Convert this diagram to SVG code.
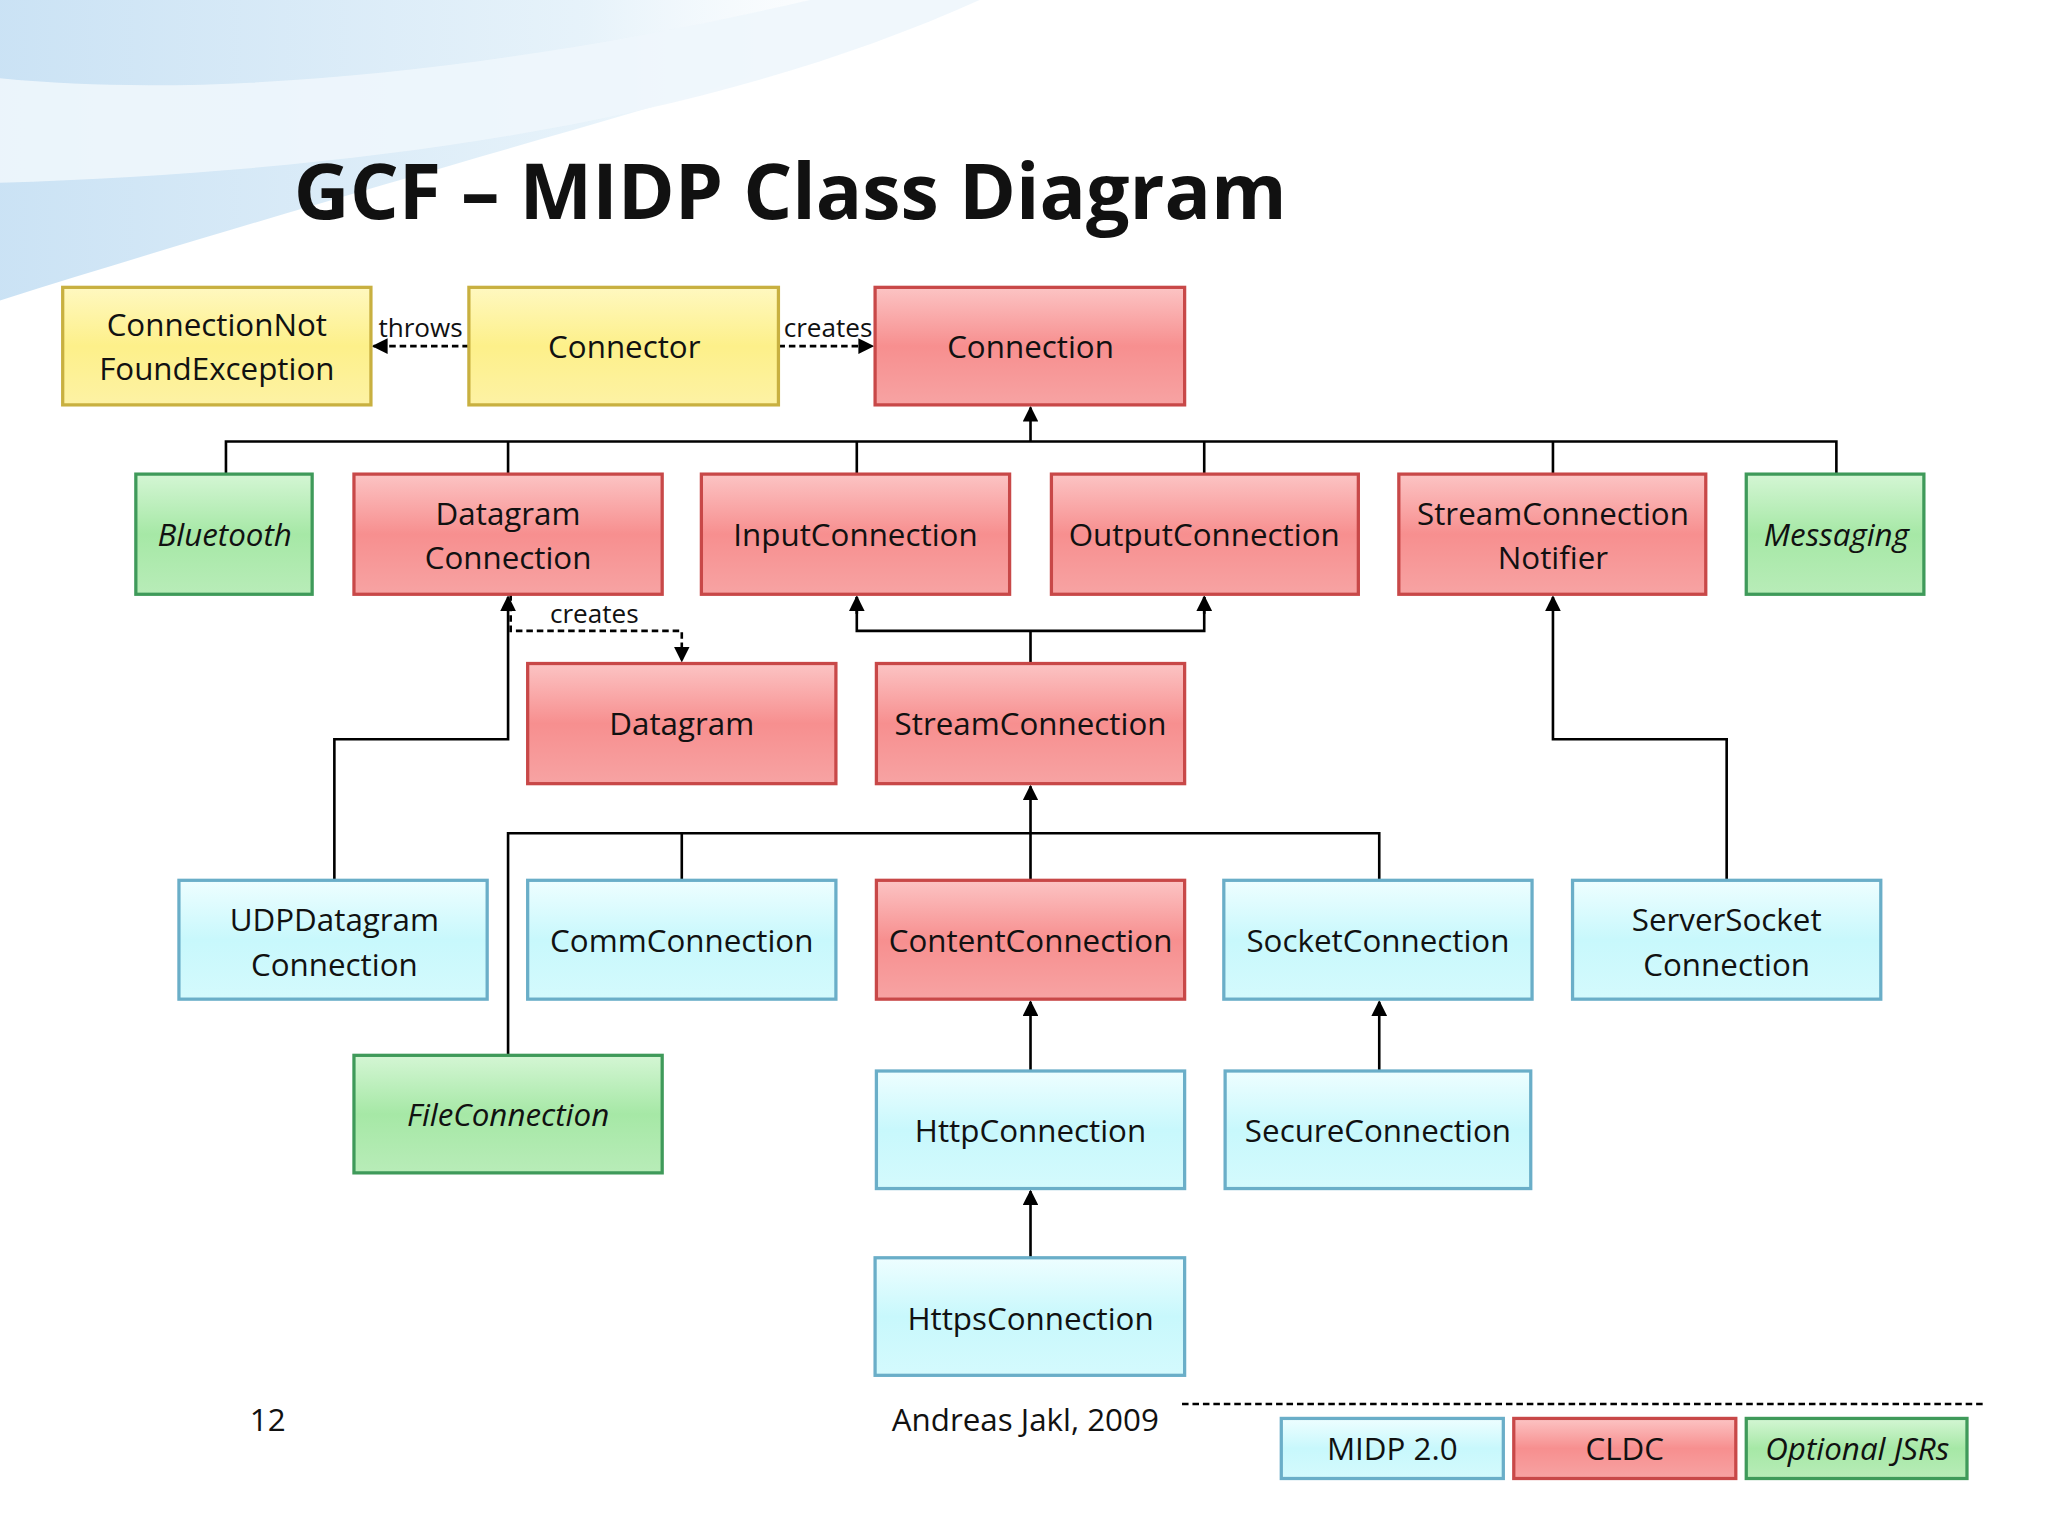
<svg xmlns="http://www.w3.org/2000/svg" width="2048" height="1536" viewBox="0 0 2048 1536">
<defs>
<linearGradient id="gr" x1="0" y1="0" x2="0" y2="1"><stop offset="0" stop-color="#fcc4c4"/><stop offset="0.5" stop-color="#f78f8f"/><stop offset="1" stop-color="#f7a3a3"/></linearGradient>
<linearGradient id="gy" x1="0" y1="0" x2="0" y2="1"><stop offset="0" stop-color="#fff8c0"/><stop offset="0.5" stop-color="#fdf08a"/><stop offset="1" stop-color="#fdf2a4"/></linearGradient>
<linearGradient id="gg" x1="0" y1="0" x2="0" y2="1"><stop offset="0" stop-color="#d4f6d4"/><stop offset="0.5" stop-color="#a6e8a6"/><stop offset="1" stop-color="#b8ecb8"/></linearGradient>
<linearGradient id="gc" x1="0" y1="0" x2="0" y2="1"><stop offset="0" stop-color="#eefeff"/><stop offset="0.5" stop-color="#c8f8fc"/><stop offset="1" stop-color="#d4fafd"/></linearGradient>
<linearGradient id="sky" x1="0" y1="0" x2="1" y2="0"><stop offset="0" stop-color="#b4d6f0"/><stop offset="0.6" stop-color="#dcedf8"/><stop offset="1" stop-color="#ffffff" stop-opacity="0"/></linearGradient>
<marker id="ar" viewBox="0 0 10 10" refX="9" refY="5" markerWidth="6" markerHeight="6" orient="auto"><path d="M0,0 L10,5 L0,10 z" fill="#000"/></marker>
<style>
.r{fill:url(#gr);stroke:#c84848;stroke-width:2.5}
.y{fill:url(#gy);stroke:#c8b040;stroke-width:2.5}
.g{fill:url(#gg);stroke:#3f9a5a;stroke-width:2.5}
.c{fill:url(#gc);stroke:#6aaec8;stroke-width:2.5}
text{font-family:"Open Sans","Liberation Sans",sans-serif;font-size:24px;fill:#111;text-anchor:middle}
.i{font-style:italic}
.l{stroke:#000;stroke-width:2;fill:none}
.d{stroke:#000;stroke-width:2;fill:none;stroke-dasharray:5,3}
.sm{font-size:20px}
</style>
</defs>
<rect width="2048" height="1536" fill="#fff"/>
<g transform="scale(1.3061)">
<g id="bg">
<path d="M0,0 L750,0 C600,60 350,120 0,230 Z" fill="url(#sky)" opacity="0.7"/>
<path d="M0,60 C200,80 450,40 620,0 L750,0 C550,90 300,130 0,140 Z" fill="#eef6fc" opacity="0.9"/>
</g>
<text x="225" y="168" style="font-size:59px;font-weight:bold;text-anchor:start">GCF – MIDP Class Diagram</text>
<g id="connectors">
<path class="d" d="M359,265 H286" marker-end="url(#ar)"/>
<path class="d" d="M596,265 H668" marker-end="url(#ar)"/>
<path class="l" d="M173,363 V338 H1406 V363 M389,363 V338 M656,363 V338 M922,363 V338 M1189,363 V338"/>
<path class="l" d="M789,338 V312" marker-end="url(#ar)"/>
<path class="d" d="M391,455 V483 H522 V506" marker-end="url(#ar)"/>
<path class="l" d="M789,508 V483 H656 V457 M789,483 H922 V457"/>
<path class="l" d="M656,470 V457" marker-end="url(#ar)"/>
<path class="l" d="M922,470 V457" marker-end="url(#ar)"/>
<path class="l" d="M256,674 V566 H389 V457" marker-end="url(#ar)"/>
<path class="l" d="M1322,674 V566 H1189 V457" marker-end="url(#ar)"/>
<path class="l" d="M389,808 V638 H1056 V674 M522,638 V674 M789,674 V602" marker-end="url(#ar)"/>
<path class="l" d="M789,820 V767" marker-end="url(#ar)"/>
<path class="l" d="M1056,820 V767" marker-end="url(#ar)"/>
<path class="l" d="M789,963 V912" marker-end="url(#ar)"/>
<path class="d" d="M905,1075 H1518"/>
</g>
<text class="sm" x="322" y="258">throws</text>
<text class="sm" x="634" y="258">creates</text>
<text class="sm" x="455" y="477">creates</text>
<g id="n1"><rect class="y" x="48" y="220" width="236" height="90"/><text x="166" y="257">ConnectionNot</text><text x="166" y="291">FoundException</text></g>
<g id="n2"><rect class="y" x="359" y="220" width="237" height="90"/><text x="478" y="274">Connector</text></g>
<g id="n3"><rect class="r" x="670" y="220" width="237" height="90"/><text x="789" y="274">Connection</text></g>
<g id="n4"><rect class="g" x="104" y="363" width="135" height="92"/><text class="i" x="172" y="418">Bluetooth</text></g>
<g id="n5"><rect class="r" x="271" y="363" width="236" height="92"/><text x="389" y="402">Datagram</text><text x="389" y="436">Connection</text></g>
<g id="n6"><rect class="r" x="537" y="363" width="236" height="92"/><text x="655" y="418">InputConnection</text></g>
<g id="n7"><rect class="r" x="805" y="363" width="235" height="92"/><text x="922" y="418">OutputConnection</text></g>
<g id="n8"><rect class="r" x="1071" y="363" width="235" height="92"/><text x="1189" y="402">StreamConnection</text><text x="1189" y="436">Notifier</text></g>
<g id="n9"><rect class="g" x="1337" y="363" width="136" height="92"/><text class="i" x="1406" y="418">Messaging</text></g>
<g id="n10"><rect class="r" x="404" y="508" width="236" height="92"/><text x="522" y="563">Datagram</text></g>
<g id="n11"><rect class="r" x="671" y="508" width="236" height="92"/><text x="789" y="563">StreamConnection</text></g>
<g id="n12"><rect class="c" x="137" y="674" width="236" height="91"/><text x="256" y="713">UDPDatagram</text><text x="256" y="747">Connection</text></g>
<g id="n13"><rect class="c" x="404" y="674" width="236" height="91"/><text x="522" y="729">CommConnection</text></g>
<g id="n14"><rect class="r" x="671" y="674" width="236" height="91"/><text x="789" y="729">ContentConnection</text></g>
<g id="n15"><rect class="c" x="937" y="674" width="236" height="91"/><text x="1055" y="729">SocketConnection</text></g>
<g id="n16"><rect class="c" x="1204" y="674" width="236" height="91"/><text x="1322" y="713">ServerSocket</text><text x="1322" y="747">Connection</text></g>
<g id="n17"><rect class="g" x="271" y="808" width="236" height="90"/><text class="i" x="389" y="862">FileConnection</text></g>
<g id="n18"><rect class="c" x="671" y="820" width="236" height="90"/><text x="789" y="874">HttpConnection</text></g>
<g id="n19"><rect class="c" x="938" y="820" width="234" height="90"/><text x="1055" y="874">SecureConnection</text></g>
<g id="n20"><rect class="c" x="670" y="963" width="237" height="90"/><text x="789" y="1018">HttpsConnection</text></g>
<g id="legend">
<rect class="c" x="981" y="1086" width="170" height="46"/><text x="1066" y="1118">MIDP 2.0</text>
<rect class="r" x="1159" y="1086" width="170" height="46"/><text x="1244" y="1118">CLDC</text>
<rect class="g" x="1337" y="1086" width="169" height="46"/><text class="i" x="1422" y="1118">Optional JSRs</text>
</g>
<text x="205" y="1096">12</text>
<text x="785" y="1096">Andreas Jakl, 2009</text>
</g>
</svg>
